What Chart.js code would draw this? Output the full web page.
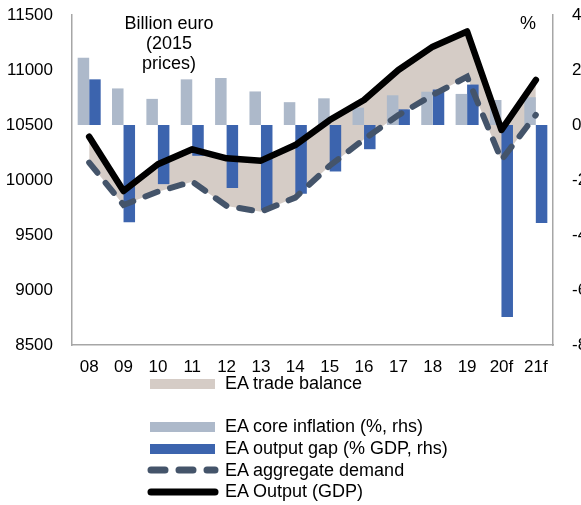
<!DOCTYPE html>
<html>
<head>
<meta charset="utf-8">
<script src="https://cdn.jsdelivr.net/npm/chart.js@4/dist/chart.umd.min.js"></script>
<style>
  html, body { margin: 0; padding: 0; overflow: hidden; background: #fff; }
  body { width: 581px; height: 505px; position: relative; font-family: "Liberation Sans", Arial, sans-serif; color: #000; }
  #chart { position: absolute; left: 0; top: 0; }
  .note { position: absolute; font-size: 18px; line-height: 20px; text-align: center; }
  #legend { position: absolute; left: 147px; top: 373px; font-size: 18px; }
  .row { display: flex; align-items: center; height: 21.6px; white-space: nowrap; }
  .row svg { margin-right: 6px; }
</style>
</head>
<body>
<canvas id="chart" width="600" height="380"></canvas>
<div class="note" style="left:109px; top:13px; width:120px;">Billion euro<br>(2015<br>prices)</div>
<div class="note" style="left:518px; top:13px; width:20px;">%</div>
<div id="legend"></div>
<script>
// years on the x axis
const years = ['08', '09', '10', '11', '12', '13', '14', '15', '16', '17', '18', '19', '20f', '21f'];

// right axis, %
const coreInflation = [2.45, 1.33, 0.95, 1.66, 1.71, 1.22, 0.83, 0.97, 0.63, 1.08, 1.21, 1.13, 0.91, 1.01];
const outputGap = [1.66, -3.54, -2.15, -1.12, -2.29, -3.09, -2.5, -1.69, -0.88, 0.57, 1.29, 1.47, -6.98, -3.56];

// left axis, billion euro (2015 prices)
const gdp = [10394, 9900, 10143, 10279, 10197, 10176, 10318, 10545, 10727, 11000, 11212, 11350, 10455, 10909];
const demand = [10158, 9773, 9894, 9985, 9764, 9712, 9840, 10130, 10370, 10590, 10773, 10939, 10182, 10591];

const fillColor = '#D5CCC6';
const inflColor = '#ADB9CA';
const gapColor = '#3C64AE';
const demandColor = '#44546A';
const axisColor = '#A6A6A6';
const font = { family: '"Liberation Sans", Arial, sans-serif', size: 17 };

const datasets = [
    {
        type: 'line', label: 'EA Output (GDP)', data: gdp, yAxisID: 'y',
        borderColor: '#000', borderWidth: 6.5, pointRadius: 0, tension: 0,
        borderJoinStyle: 'round', borderCapStyle: 'round', fill: false, order: 0
    },
    {
        type: 'line', label: 'EA aggregate demand', data: demand, yAxisID: 'y',
        borderColor: demandColor, borderWidth: 6, borderDash: [13, 13], borderCapStyle: 'round',
        pointRadius: 0, tension: 0, fill: false, order: 1
    },
    {
        type: 'bar', label: 'EA core inflation (%, rhs)', data: coreInflation, yAxisID: 'y2',
        backgroundColor: inflColor, categoryPercentage: 0.67, barPercentage: 1, order: 2
    },
    {
        type: 'bar', label: 'EA output gap (% GDP, rhs)', data: outputGap, yAxisID: 'y2',
        backgroundColor: gapColor, categoryPercentage: 0.67, barPercentage: 1, order: 2
    },
    {
        // shaded area between output and demand
        type: 'line', label: 'EA trade balance', data: gdp, yAxisID: 'y',
        borderWidth: 0, pointRadius: 0, tension: 0,
        backgroundColor: fillColor, fill: 1, order: 3
    }
];

// fixed axis widths, and no extra room for the end labels
function fixWidth(w) {
    return s => {
        s.width = w;
        s.paddingTop = 0;
        s.paddingBottom = 0;
    };
}

new Chart(document.getElementById('chart'), {
    type: 'bar',
    data: { labels: years, datasets },
    options: {
        responsive: false,
        animation: false,
        layout: { padding: { top: 15, left: 0, right: 0, bottom: 0 } },
        plugins: { legend: { display: false }, tooltip: { enabled: false } },
        scales: {
            x: {
                grid: { display: false, drawTicks: false },
                border: { color: axisColor, width: 1.5 },
                ticks: { color: '#000', font, padding: 12, maxRotation: 0, autoSkip: false },
                afterFit: s => { s.height = 35; }
            },
            y: {
                position: 'left', min: 8500, max: 11500,
                grid: { display: false, drawTicks: false },
                border: { color: axisColor, width: 1.5 },
                ticks: { stepSize: 500, color: '#000', font, padding: 19, callback: v => String(v) },
                afterFit: fixWidth(72)
            },
            y2: {
                position: 'right', min: -8, max: 4,
                grid: { display: false, drawTicks: false },
                border: { color: axisColor, width: 1.5 },
                ticks: { stepSize: 2, color: '#000', font, padding: 19, callback: v => String(v) },
                afterFit: fixWidth(47)
            }
        }
    }
});

// legend below the chart, one item per row
const legendItems = [
    { label: 'EA trade balance', kind: 'box', color: fillColor },
    null,
    { label: 'EA core inflation (%, rhs)', kind: 'box', color: inflColor },
    { label: 'EA output gap (% GDP, rhs)', kind: 'box', color: gapColor },
    { label: 'EA aggregate demand', kind: 'dash', color: demandColor },
    { label: 'EA Output (GDP)', kind: 'line', color: '#000' }
];

const legend = document.getElementById('legend');
legendItems.forEach(item => {
    const row = document.createElement('div');
    row.className = 'row';
    if (item) {
        let mark;
        if (item.kind === 'box') {
            mark = `<rect x="3" y="1" width="65" height="10" fill="${item.color}"/>`;
        } else if (item.kind === 'dash') {
            mark = `<line x1="4" y1="6" x2="68" y2="6" stroke="${item.color}" stroke-width="7" stroke-linecap="round" stroke-dasharray="14 14"/>`;
        } else {
            mark = `<line x1="4" y1="6" x2="68" y2="6" stroke="${item.color}" stroke-width="7" stroke-linecap="round"/>`;
        }
        row.innerHTML = `<svg width="72" height="12">${mark}</svg><span>${item.label}</span>`;
    }
    legend.appendChild(row);
});
</script>
</body>
</html>
